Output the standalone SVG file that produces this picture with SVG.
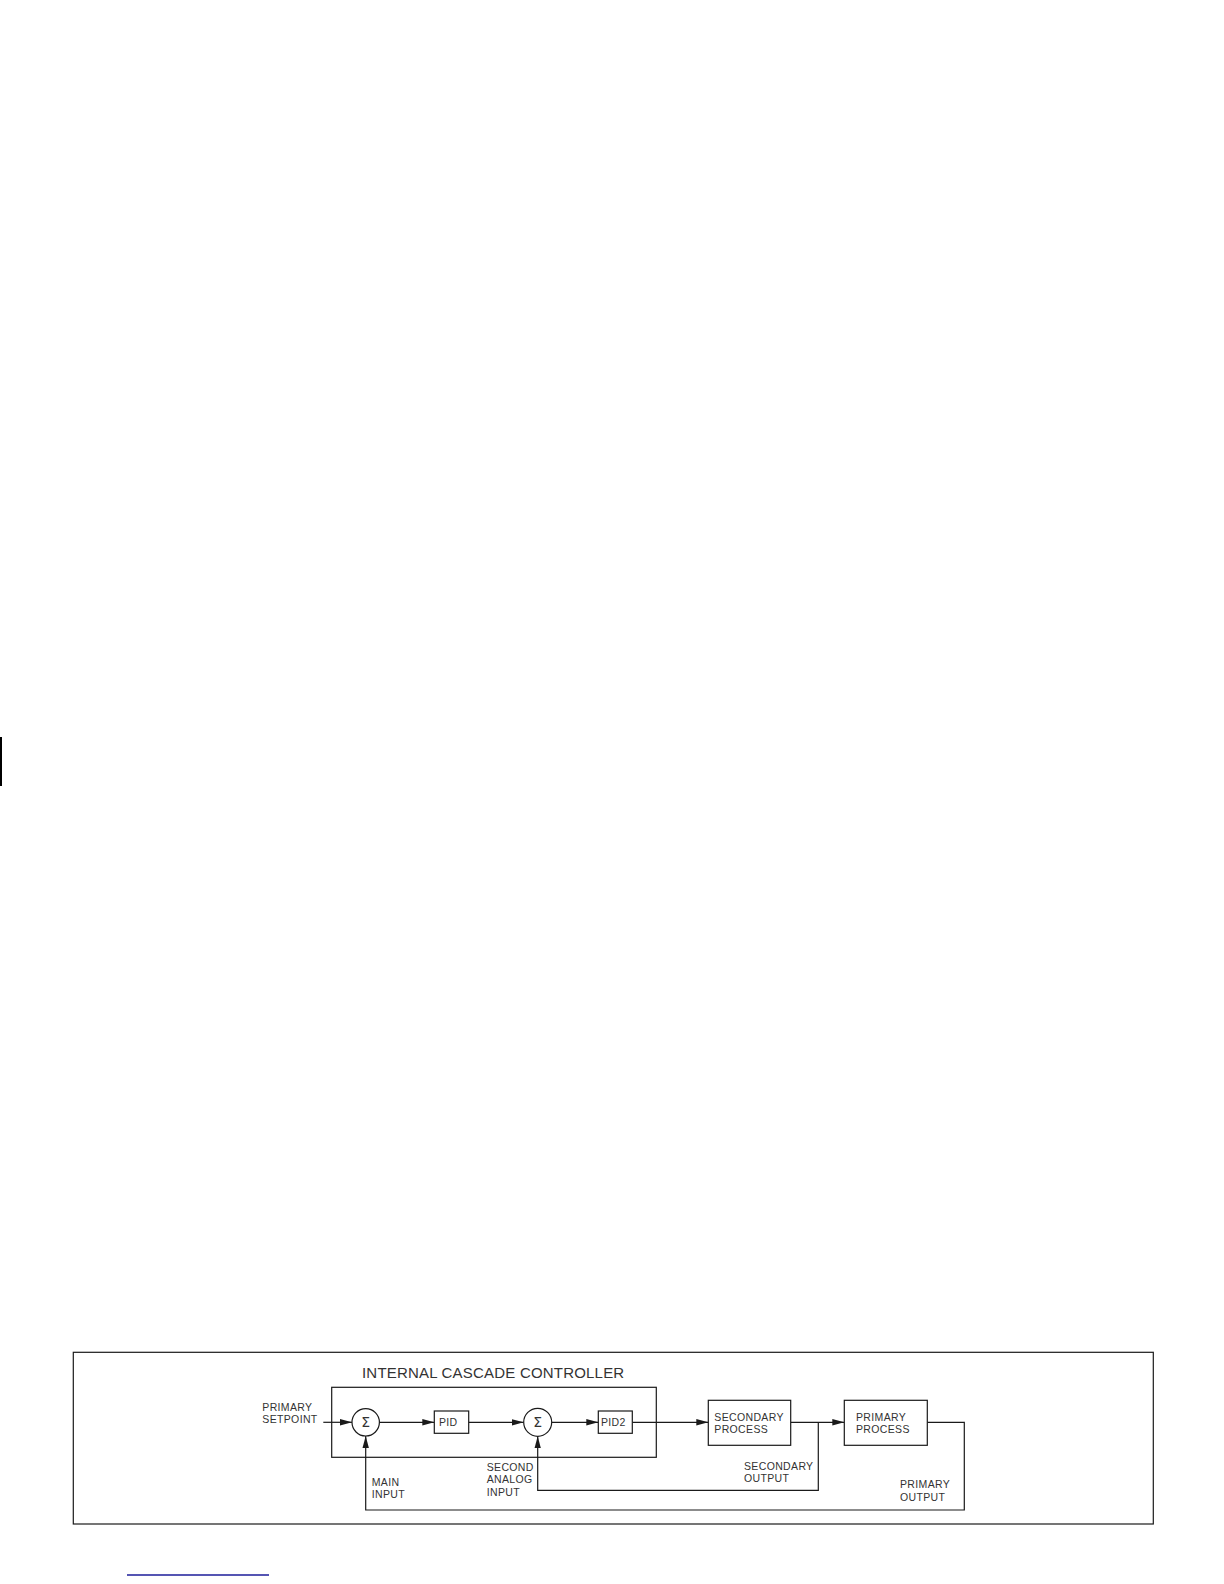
<svg xmlns="http://www.w3.org/2000/svg" width="1224" height="1584" viewBox="0 0 1224 1584">
<defs>
<marker id="arr" markerWidth="13" markerHeight="8" refX="12" refY="4" orient="auto" markerUnits="userSpaceOnUse">
<path d="M0,0.8 L12,4 L0,7.2 Z" fill="#1a1a1a"/>
</marker>
<style>
.ln{fill:none;stroke:#1a1a1a;stroke-width:1.2}
.bx{fill:#fff;stroke:#1a1a1a;stroke-width:1.2}
.t{font-family:"Liberation Sans",Arial,sans-serif;font-size:10.5px;fill:#333;letter-spacing:0.35px}
.ttl{font-family:"Liberation Sans",Arial,sans-serif;font-size:15px;fill:#333;letter-spacing:0.2px}
.sig{font-family:"DejaVu Sans",sans-serif;font-size:14px;fill:#333;text-anchor:middle}
</style>
</defs>
<rect width="1224" height="1584" fill="#fff"/>
<line x1="1" y1="737" x2="1" y2="786" stroke="#000" stroke-width="2"/>
<line x1="127" y1="1575" x2="269" y2="1575" stroke="#1c1c9a" stroke-width="1.3"/>
<g id="frame"><rect x="73.3" y="1352.3" width="1080" height="171.7" class="ln" stroke-width="1.4"/></g>
<g id="controller">
<rect x="331.7" y="1387.3" width="324.6" height="70" class="ln"/>
<text x="362" y="1377.7" class="ttl">INTERNAL CASCADE CONTROLLER</text>
</g>
<g id="connectors">
<line x1="323.3" y1="1422.3" x2="352" y2="1422.3" class="ln" marker-end="url(#arr)"/>
<line x1="379.4" y1="1422.3" x2="434.3" y2="1422.3" class="ln" marker-end="url(#arr)"/>
<line x1="468.7" y1="1422.3" x2="523.7" y2="1422.3" class="ln" marker-end="url(#arr)"/>
<line x1="551.7" y1="1422.3" x2="598.3" y2="1422.3" class="ln" marker-end="url(#arr)"/>
<line x1="632.3" y1="1422.3" x2="708.3" y2="1422.3" class="ln" marker-end="url(#arr)"/>
<line x1="790.7" y1="1422.3" x2="844.3" y2="1422.3" class="ln" marker-end="url(#arr)"/>
<polyline points="818.3,1422.3 818.3,1490.3 537.7,1490.3 537.7,1436.3" class="ln" marker-end="url(#arr)"/>
<polyline points="927.3,1422.3 964.3,1422.3 964.3,1510 365.7,1510 365.7,1436" class="ln" marker-end="url(#arr)"/>
</g>
<g id="sum1"><circle cx="365.7" cy="1422.3" r="13.7" class="bx"/><text x="365.7" y="1427.3" class="sig">Σ</text></g>
<g id="pid"><rect x="434.3" y="1411" width="34.4" height="22.3" class="bx"/><text x="439" y="1426" class="t">PID</text></g>
<g id="sum2"><circle cx="537.7" cy="1422.3" r="14" class="bx"/><text x="537.7" y="1427.3" class="sig">Σ</text></g>
<g id="pid2"><rect x="598.3" y="1411" width="34" height="22.3" class="bx"/><text x="601" y="1426" class="t">PID2</text></g>
<g id="secondary-process"><rect x="708.3" y="1400.3" width="82.4" height="45" class="bx"/><text x="714.3" y="1421" class="t">SECONDARY</text><text x="714.3" y="1433.3" class="t">PROCESS</text></g>
<g id="primary-process"><rect x="844.3" y="1400.3" width="83" height="45" class="bx"/><text x="856" y="1421" class="t">PRIMARY</text><text x="856" y="1433.3" class="t">PROCESS</text></g>
<g id="labels">
<text x="262.3" y="1410.7" class="t">PRIMARY</text><text x="262.3" y="1423.3" class="t">SETPOINT</text>
<text x="371.7" y="1485.7" class="t">MAIN</text><text x="371.7" y="1498.3" class="t">INPUT</text>
<text x="486.7" y="1471" class="t">SECOND</text><text x="486.7" y="1483.3" class="t">ANALOG</text><text x="486.7" y="1495.7" class="t">INPUT</text>
<text x="744" y="1470" class="t">SECONDARY</text><text x="744" y="1481.7" class="t">OUTPUT</text>
<text x="900" y="1488.3" class="t">PRIMARY</text><text x="900" y="1500.7" class="t">OUTPUT</text>
</g>
</svg>
